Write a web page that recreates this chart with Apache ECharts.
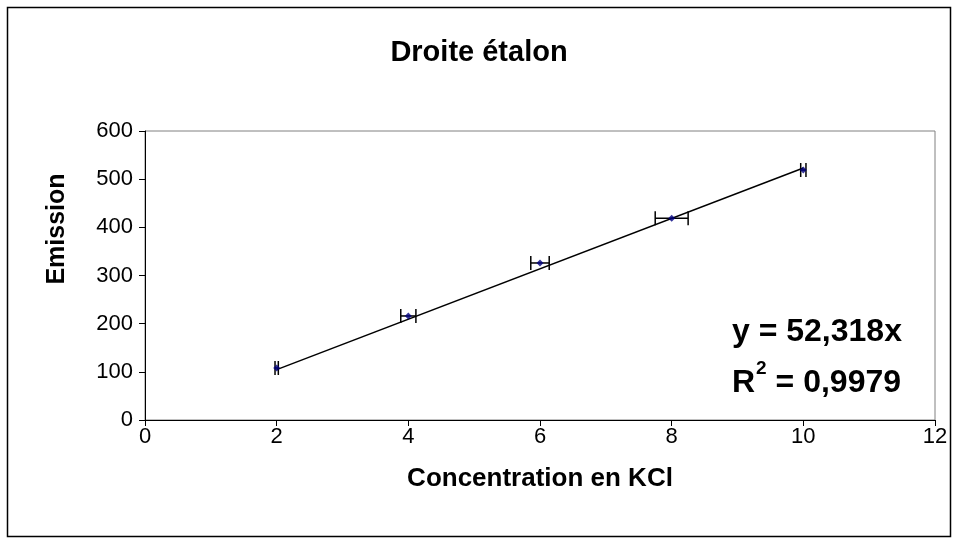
<!DOCTYPE html>
<html>
<head>
<meta charset="utf-8">
<script src="https://cdn.jsdelivr.net/npm/echarts@6/dist/echarts.min.js"></script>
<style>html,body{margin:0;padding:0;background:#fff}#c{width:958px;height:544px}</style>
</head>
<body>
<div id="c"></div>
<script>
var concentrations = [2, 4, 6, 8, 10];
var emissions = [108, 216, 326, 419, 519];
var xErrors = [0.025, 0.115, 0.14, 0.25, 0.04];
var slope = 52.318;
var r2Text = '0,9979';
var slopeText = '52,318';

var chart = echarts.init(document.getElementById('c'));
var FONT = 'Liberation Sans, Arial, sans-serif';
var pts = concentrations.map(function (x, i) { return [x, emissions[i]]; });
var errs = concentrations.map(function (x, i) { return [x, emissions[i], xErrors[i]]; });
var xMin = Math.min.apply(null, concentrations), xMax = Math.max.apply(null, concentrations);
var trend = [[xMin, slope * xMin], [xMax, slope * xMax]];

chart.setOption({
  animation: false,
  backgroundColor: '#fff',
  title: {
    text: 'Droite étalon', left: 'center', top: 33,
    textStyle: { fontFamily: FONT, fontSize: 29, fontWeight: 'bold', color: '#000' }
  },
  grid: { left: 145, right: 23, top: 131, bottom: 124, show: true, borderColor: '#808080', borderWidth: 1 },
  xAxis: {
    type: 'value', min: 0, max: 12, interval: 2,
    name: 'Concentration en KCl', nameLocation: 'middle', nameGap: 46,
    nameTextStyle: { fontFamily: FONT, fontSize: 26, fontWeight: 'bold', color: '#000' },
    axisLine: { lineStyle: { color: '#000', width: 1 } },
    axisTick: { show: true, inside: false, length: 6, lineStyle: { color: '#000' } },
    axisLabel: { fontFamily: FONT, fontSize: 22, color: '#000', margin: 6 },
    splitLine: { show: false }
  },
  yAxis: {
    type: 'value', min: 0, max: 600, interval: 100,
    axisLine: { show: true, lineStyle: { color: '#000', width: 1 } },
    axisTick: { show: true, inside: false, length: 6, lineStyle: { color: '#000' } },
    axisLabel: { fontFamily: FONT, fontSize: 22, color: '#000', margin: 12 },
    splitLine: { show: false }
  },
  graphic: [
    { type: 'rect', shape: { x: 7.5, y: 7.5, width: 943, height: 529 }, style: { fill: null, stroke: '#000', lineWidth: 1.5 }, silent: true, z: 100 },
    { type: 'text', x: 57, y: 229, rotation: Math.PI / 2,
      style: { text: 'Emission', font: 'bold 25px ' + FONT, fill: '#000', align: 'center', verticalAlign: 'middle' }, z: 100 },
    { type: 'text', left: 732, top: 316, style: { text: 'y = ' + slopeText + 'x', font: 'bold 32px ' + FONT, fill: '#000' }, z: 100 },
    { type: 'text', left: 732, top: 359, style: {
        text: '{a|R}{s|2}{a| = ' + r2Text + '}',
        rich: {
          a: { fontFamily: FONT, fontSize: 32, fontWeight: 'bold', fill: '#000', lineHeight: 40, verticalAlign: 'bottom' },
          s: { fontFamily: FONT, fontSize: 19, fontWeight: 'bold', fill: '#000', lineHeight: 40, verticalAlign: 'top', padding: [0, 0, 0, 1] }
        }
      }, z: 100 }
  ],
  series: [
    {
      type: 'line', data: trend, symbol: 'none', silent: true,
      lineStyle: { color: '#000', width: 1.5 }, z: 2
    },
    {
      type: 'custom', data: errs, silent: true, z: 3,
      renderItem: function (params, api) {
        var x = api.value(0), y = api.value(1), e = api.value(2);
        var lo = api.coord([x - e, y]), hi = api.coord([x + e, y]);
        var h = 7;
        var st = { stroke: '#000', lineWidth: 1.5 };
        return { type: 'group', children: [
          { type: 'line', shape: { x1: lo[0], y1: lo[1], x2: hi[0], y2: hi[1] }, style: st },
          { type: 'line', shape: { x1: lo[0], y1: lo[1] - h, x2: lo[0], y2: lo[1] + h }, style: st },
          { type: 'line', shape: { x1: hi[0], y1: hi[1] - h, x2: hi[0], y2: hi[1] + h }, style: st }
        ] };
      }
    },
    {
      type: 'scatter', data: pts, symbol: 'diamond', symbolSize: 7, silent: true, z: 4,
      itemStyle: { color: '#000080' }
    }
  ]
});
</script>
</body>
</html>
